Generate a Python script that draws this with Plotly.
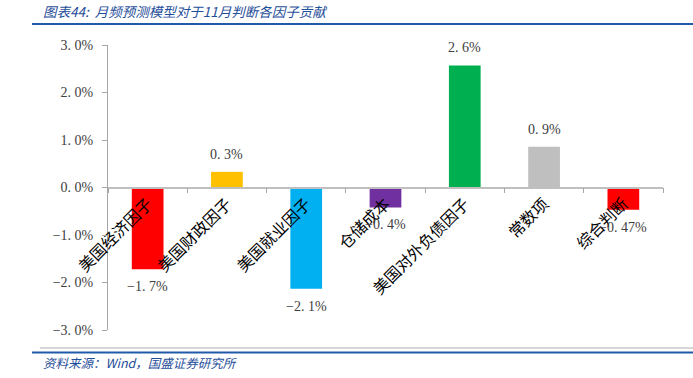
import plotly.graph_objects as go

categories = ["美国经济因子", "美国财政因子", "美国就业因子", "仓储成本", "美国对外负债因子", "常数项", "综合判断"]
values = [-1.72, 0.33, -2.13, -0.42, 2.57, 0.86, -0.47]
value_labels = ["−1. 7%", "0. 3%", "−2. 1%", "−0. 4%", "2. 6%", "0. 9%", "−0. 47%"]
bar_colors = ["#FF0000", "#FFC000", "#00B0F0", "#7030A0", "#00B050", "#BFBFBF", "#FF0000"]
tick_vals = [3, 2, 1, 0, -1, -2, -3]
tick_text = ["3. 0%", "2. 0%", "1. 0%", "0. 0%", "−1. 0%", "−2. 0%", "−3. 0%"]
title_text = "图表44:  月频预测模型对于11月判断各因子贡献"
source_text = "资料来源：Wind，国盛证券研究所"

W, H = 693, 378
L, R, T, B = 108, 663, 45, 330

def px(x):
    return (x - L) / (R - L)

def py(y):
    return (B - y) / (B - T)

NUM_FONT = "Liberation Serif, Noto Sans CJK SC"
CJK_FONT = "Noto Sans CJK SC"
BLUE = "#1F4E9A"

fig = go.Figure()
fig.add_trace(go.Bar(
    x=categories, y=values, marker=dict(color=bar_colors, line=dict(width=0)),
    width=0.4, hoverinfo="skip",
))

for c, v, t in zip(categories, values, value_labels):
    fig.add_annotation(
        x=c, y=v, text=t, showarrow=False,
        yanchor="bottom" if v >= 0 else "top",
        yshift=8 if v >= 0 else -8,
        font=dict(family=NUM_FONT, size=14, color="#404040"),
    )

fig.add_annotation(xref="paper", yref="paper", x=px(41), y=py(11), text=title_text,
                   showarrow=False, xanchor="left", yanchor="middle",
                   font=dict(family=CJK_FONT, size=13.5, color=BLUE, style="italic"))
fig.add_annotation(xref="paper", yref="paper", x=px(41), y=py(362), text=source_text,
                   showarrow=False, xanchor="left", yanchor="middle",
                   font=dict(family=CJK_FONT, size=12.5, color=BLUE, style="italic"))

fig.add_shape(type="line", xref="paper", yref="paper", x0=px(32), x1=px(700), y0=py(24), y1=py(24),
              line=dict(color="#1F5BA8", width=2))
fig.add_shape(type="line", xref="paper", yref="paper", x0=px(40), x1=px(700), y0=py(348), y1=py(348),
              line=dict(color="#C8C8C8", width=1.5))
fig.add_shape(type="line", xref="paper", yref="paper", x0=px(32), x1=px(700), y0=py(352.5), y1=py(352.5),
              line=dict(color="#1F5BA8", width=2))

fig.update_layout(
    width=W, height=H,
    margin=dict(l=L, r=W - R, t=T, b=H - B, autoexpand=False),
    paper_bgcolor="white", plot_bgcolor="white",
    showlegend=False,
    xaxis=dict(
        anchor="free", position=0.5, type="category", automargin=False,
        showline=True, linecolor="#BFBFBF", linewidth=1.5,
        ticks="outside", tickson="boundaries", ticklen=5, tickcolor="#A6A6A6",
        tickangle=-45, showgrid=False, zeroline=False,
        tickfont=dict(family=CJK_FONT, size=16, color="#000000"),
        range=[-0.5, 6.5],
    ),
    yaxis=dict(
        range=[-3, 3], tickvals=tick_vals, ticktext=tick_text, automargin=False,
        showline=True, linecolor="#A6A6A6", linewidth=1,
        ticks="outside", ticklen=5, tickcolor="#A6A6A6",
        showgrid=False, zeroline=False,
        tickfont=dict(family=NUM_FONT, size=14, color="#404040"),
        ticklabelstandoff=6,
    ),
)

fig.write_html("out.html", config={"displayModeBar": False},
               post_script="document.body.style.margin='0';document.body.style.overflow='hidden';")
